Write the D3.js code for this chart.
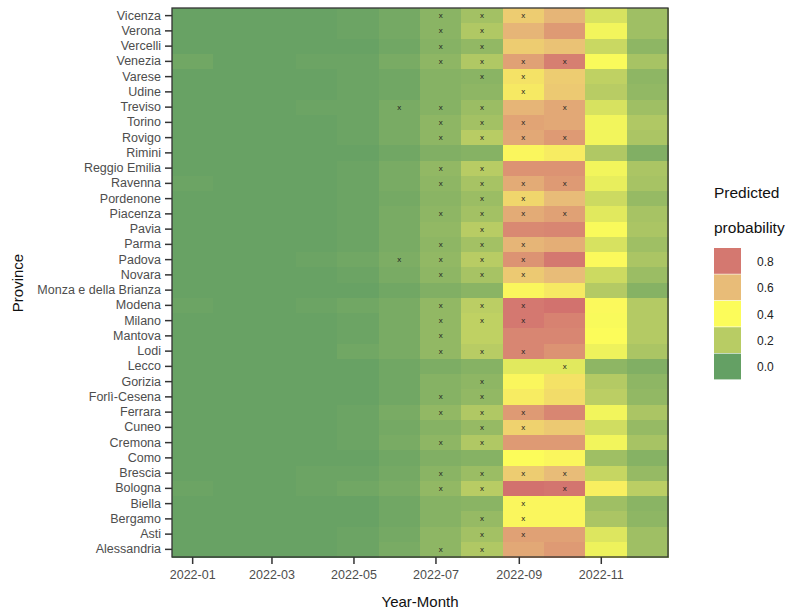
<!DOCTYPE html>
<html><head><meta charset="utf-8">
<script src="https://cdn.jsdelivr.net/npm/d3@7"></script>
<style>body{margin:0;background:#fff;font-family:"Liberation Sans",Arial,sans-serif;}</style>
</head><body><svg id="c" width="788" height="615"></svg>
<script>
const provinces = ["Vicenza","Verona","Vercelli","Venezia","Varese","Udine","Treviso","Torino","Rovigo","Rimini","Reggio Emilia","Ravenna","Pordenone","Piacenza","Pavia","Parma","Padova","Novara","Monza e della Brianza","Modena","Milano","Mantova","Lodi","Lecco","Gorizia","Forlì-Cesena","Ferrara","Cuneo","Cremona","Como","Brescia","Bologna","Biella","Bergamo","Asti","Alessandria"];
const months = ["2022-01","2022-02","2022-03","2022-04","2022-05","2022-06","2022-07","2022-08","2022-09","2022-10","2022-11","2022-12"];
const tickLabels = ["2022-01","2022-03","2022-05","2022-07","2022-09","2022-11"];
const legendBreaks = [0.8,0.6,0.4,0.2,0.0];

const jan = [0.01,0.01,0.01,0.03,0.01,0.01,0.01,0.01,0.01,0.01,0.01,0.02,0.01,0.01,0.01,0.01,0.01,0.01,0.01,0.02,0.01,0.01,0.01,0.01,0.01,0.01,0.01,0.01,0.01,0.01,0.01,0.02,0.01,0.01,0.01,0.01];
const feb = [0.01,0.01,0.01,0.01,0.01,0.01,0.01,0.01,0.01,0.01,0.01,0.01,0.01,0.01,0.01,0.01,0.01,0.01,0.01,0.01,0.01,0.01,0.01,0.01,0.01,0.01,0.01,0.01,0.01,0.01,0.01,0.01,0.01,0.01,0.01,0.01];
const mar = [0.01,0.01,0.01,0.01,0.01,0.01,0.01,0.01,0.01,0.01,0.01,0.01,0.01,0.01,0.01,0.01,0.01,0.01,0.01,0.01,0.01,0.01,0.01,0.01,0.01,0.01,0.01,0.01,0.01,0.01,0.01,0.01,0.01,0.01,0.01,0.01];
const apr = [0.01,0.01,0.01,0.02,0.01,0.01,0.02,0.01,0.01,0.01,0.01,0.01,0.01,0.01,0.01,0.01,0.02,0.01,0.01,0.02,0.01,0.01,0.01,0.01,0.01,0.01,0.01,0.01,0.01,0.01,0.02,0.02,0.01,0.01,0.01,0.01];
const may = [0.02,0.02,0.01,0.02,0.02,0.02,0.02,0.02,0.02,0.01,0.02,0.02,0.02,0.02,0.02,0.02,0.03,0.02,0.01,0.03,0.02,0.02,0.03,0.01,0.01,0.01,0.02,0.02,0.02,0.01,0.02,0.03,0.01,0.01,0.02,0.02];
const jun = [0.04,0.04,0.03,0.05,0.03,0.03,0.05,0.05,0.05,0.03,0.05,0.05,0.04,0.05,0.05,0.05,0.06,0.05,0.03,0.05,0.05,0.05,0.05,0.03,0.03,0.03,0.05,0.04,0.05,0.03,0.04,0.05,0.03,0.03,0.04,0.05];
const jul = [0.09,0.09,0.08,0.10,0.08,0.08,0.08,0.10,0.10,0.07,0.11,0.10,0.09,0.10,0.11,0.10,0.11,0.10,0.07,0.11,0.11,0.11,0.11,0.06,0.08,0.08,0.11,0.08,0.10,0.07,0.09,0.11,0.08,0.08,0.10,0.10];
const aug = [0.15,0.18,0.11,0.18,0.09,0.10,0.13,0.15,0.20,0.08,0.20,0.16,0.13,0.15,0.20,0.15,0.20,0.16,0.09,0.21,0.22,0.22,0.20,0.08,0.10,0.11,0.18,0.12,0.18,0.08,0.13,0.20,0.09,0.12,0.15,0.18];
const sep = [0.55,0.62,0.55,0.68,0.48,0.46,0.62,0.67,0.66,0.42,0.72,0.65,0.52,0.65,0.75,0.62,0.72,0.56,0.42,0.80,0.80,0.76,0.76,0.32,0.42,0.45,0.70,0.53,0.70,0.40,0.55,0.85,0.42,0.42,0.68,0.66];
const oct = [0.62,0.70,0.58,0.78,0.55,0.56,0.66,0.66,0.70,0.45,0.72,0.70,0.60,0.68,0.76,0.64,0.80,0.60,0.46,0.84,0.77,0.76,0.72,0.32,0.48,0.50,0.76,0.56,0.70,0.42,0.60,0.82,0.42,0.42,0.68,0.70];
const nov = [0.29,0.37,0.25,0.39,0.22,0.20,0.29,0.37,0.37,0.18,0.37,0.34,0.26,0.32,0.39,0.29,0.41,0.26,0.19,0.41,0.39,0.40,0.36,0.10,0.19,0.21,0.37,0.27,0.37,0.14,0.24,0.44,0.14,0.17,0.31,0.36];
const dec = [0.14,0.14,0.10,0.16,0.10,0.11,0.14,0.18,0.17,0.07,0.17,0.16,0.12,0.16,0.17,0.14,0.17,0.13,0.08,0.19,0.19,0.19,0.17,0.07,0.10,0.11,0.17,0.12,0.16,0.08,0.12,0.21,0.09,0.10,0.14,0.14];
const values = [jan,feb,mar,apr,may,jun,jul,aug,sep,oct,nov,dec];

// significance marks ("x") per month, 1 = marked
const markJun = [0,0,0,0,0,0,1,0,0,0,0,0,0,0,0,0,1,0,0,0,0,0,0,0,0,0,0,0,0,0,0,0,0,0,0,0];
const markJul = [1,1,1,1,0,0,1,1,1,0,1,1,0,1,0,1,1,1,0,1,1,1,1,0,0,1,1,0,1,0,1,1,0,0,0,1];
const markAug = [1,1,1,1,1,0,1,1,1,0,1,1,1,1,1,1,1,1,0,1,1,0,1,0,1,1,1,1,1,0,1,1,0,1,1,1];
const markSep = [1,0,0,1,1,1,0,1,1,0,0,1,1,1,0,1,1,1,0,1,1,0,1,0,0,0,1,1,0,0,1,0,1,1,1,0];
const markOct = [0,0,0,1,0,0,1,0,1,0,0,1,0,1,0,0,0,0,0,0,0,0,0,1,0,0,0,0,0,0,1,1,0,0,0,0];
const marks = {5:markJun,6:markJul,7:markAug,8:markSep,9:markOct};

const svg = d3.select("#c");
const L = 172, R = 668, T = 8, B = 557;

const x = d3.scaleBand().domain(months).range([L, R]);
const y = d3.scaleBand().domain(provinces).range([T, B]);
const xt = d3.scaleTime().domain([new Date(2021,11,17), new Date(2022,11,21)]).range([L, R]);

const color = d3.scaleLinear()
  .domain([0, 0.2, 0.4, 0.6, 0.8, 0.9])
  .range(["#64a064", "#b8cc64", "#fcfc5a", "#e8bc78", "#d47870", "#d06a6c"])
  .clamp(true);

const cells = [];
months.forEach((m, j) => provinces.forEach((p, i) => {
  cells.push({m, p, v: values[j][i], mk: marks[j] ? marks[j][i] : 0});
}));

svg.append("g").attr("shape-rendering", "crispEdges").selectAll("rect").data(cells).join("rect")
  .attr("x", d => x(d.m)).attr("y", d => y(d.p))
  .attr("width", x.bandwidth() + 1).attr("height", y.bandwidth() + 1)
  .attr("fill", d => color(d.v));

svg.append("g").selectAll("text").data(cells.filter(d => d.mk)).join("text")
  .attr("x", d => x(d.m) + x.bandwidth() / 2)
  .attr("y", d => y(d.p) + y.bandwidth() / 2 + 2.5)
  .attr("text-anchor", "middle").attr("font-size", 8).attr("fill", "#222")
  .text("x");

svg.append("rect").attr("x", L).attr("y", T).attr("width", R - L).attr("height", B - T)
  .attr("fill", "none").attr("stroke", "#333").attr("stroke-width", 1.3);

// axes
const xAxis = d3.axisBottom(xt)
  .tickValues(tickLabels.map(s => d3.timeParse("%Y-%m")(s)))
  .tickFormat(d3.timeFormat("%Y-%m")).tickSize(7).tickPadding(6);
const gx = svg.append("g").attr("transform", `translate(0,${B})`).call(xAxis);
gx.select(".domain").remove();
gx.selectAll("line").attr("stroke", "#333").attr("stroke-width", 1.5);
gx.selectAll("text").attr("font-size", 12.5).attr("fill", "#4d4d4d").attr("font-family", "Liberation Sans, Arial, sans-serif");

const yAxis = d3.axisLeft(y).tickSize(7).tickPadding(4);
const gy = svg.append("g").attr("transform", `translate(${L},0)`).call(yAxis);
gy.select(".domain").remove();
gy.selectAll("line").attr("stroke", "#333").attr("stroke-width", 1.5);
gy.selectAll("text").attr("font-size", 12.5).attr("fill", "#4d4d4d").attr("font-family", "Liberation Sans, Arial, sans-serif");

svg.append("text").attr("x", (L + R) / 2).attr("y", 607).attr("text-anchor", "middle")
  .attr("font-size", 15).attr("fill", "#111").text("Year-Month");
svg.append("text").attr("transform", "translate(23,283) rotate(-90)").attr("text-anchor", "middle")
  .attr("font-size", 15).attr("fill", "#111").text("Province");

// legend
const lg = svg.append("g");
lg.append("text").attr("x", 714).attr("y", 198).attr("font-size", 15.5).attr("fill", "#111").text("Predicted");
lg.append("text").attr("x", 714).attr("y", 233).attr("font-size", 15.5).attr("fill", "#111").text("probability");
const ly = d3.scaleBand().domain(legendBreaks).range([248, 380]);
lg.selectAll("rect").data(legendBreaks).join("rect")
  .attr("x", 714).attr("y", d => ly(d)).attr("width", 27).attr("height", ly.bandwidth() - 0.6)
  .attr("fill", d => color(d));
lg.selectAll("text.lab").data(legendBreaks).join("text").attr("class", "lab")
  .attr("x", 757).attr("y", d => ly(d) + ly.bandwidth() / 2 + 4.5)
  .attr("font-size", 12).attr("fill", "#222").text(d => d.toFixed(1));
</script></body></html>
